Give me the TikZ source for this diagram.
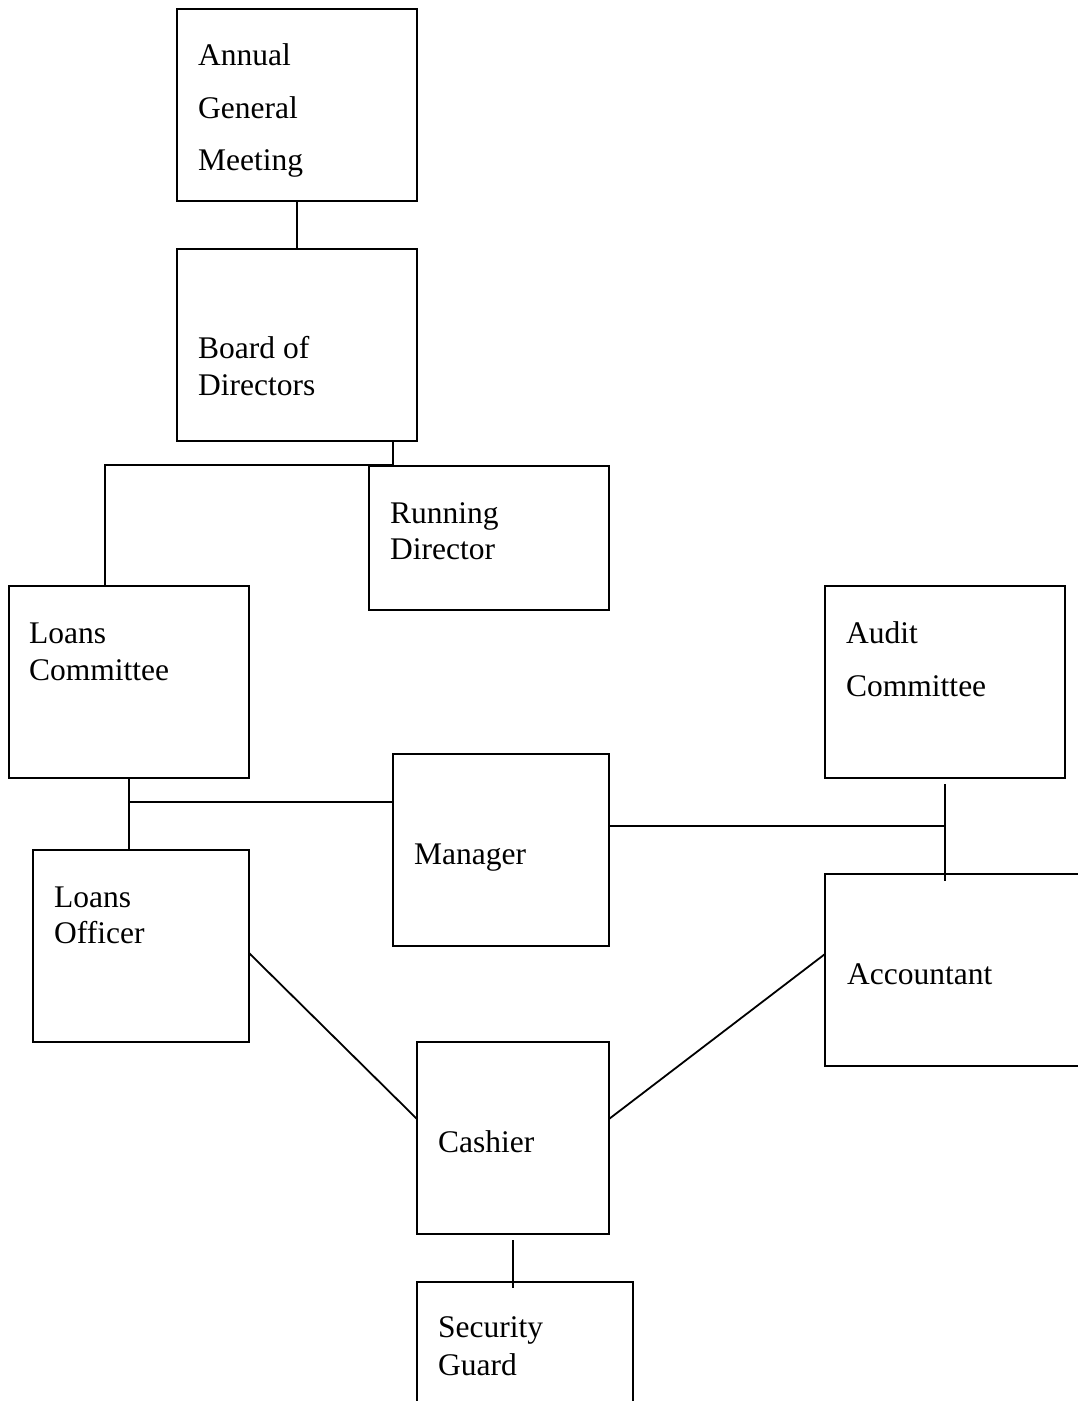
\documentclass[tikz,border=0pt]{standalone}
\usepackage{fontspec}
\setmainfont{Liberation Serif}
\begin{document}
\begin{tikzpicture}[x=1pt,y=-1pt,
  box/.style={draw, line width=1.8pt, inner sep=0pt, outer sep=0pt, anchor=north west},
  lbl/.style={anchor=base west, inner sep=0pt, font=\fontsize{31.5}{37}\selectfont},
  link/.style={line width=1.8pt}]
\useasboundingbox (0,0) rectangle (1078,1401);
\clip (0,0) rectangle (1078,1401);

% boxes
\node[box, minimum width=240pt, minimum height=192pt] (agm)  at (177,9)    {};
\node[box, minimum width=240pt, minimum height=192pt] (bod)  at (177,249)  {};
\node[box, minimum width=240pt, minimum height=144pt] (rd)   at (369,466)  {};
\node[box, minimum width=240pt, minimum height=192pt] (lc)   at (9,586)    {};
\node[box, minimum width=240pt, minimum height=192pt] (ac)   at (825,586)  {};
\node[box, minimum width=216pt, minimum height=192pt] (mgr)  at (393,754)  {};
\node[box, minimum width=216pt, minimum height=192pt] (lo)   at (33,850)   {};
\node[box, minimum width=290pt, minimum height=192pt] (acct) at (825,874)  {};
\node[box, minimum width=192pt, minimum height=192pt] (cash) at (417,1042) {};
\node[box, minimum width=216pt, minimum height=200pt] (sg)   at (417,1282) {};

% labels
\node[lbl] (agm1) at (198,65)  {Annual};
\node[lbl] (agm2) at (198,118) {General};
\node[lbl] (agm3) at (198,170) {Meeting};
\node[lbl] (bod1) at (198,358) {Board of};
\node[lbl] (bod2) at (198,395) {Directors};
\node[lbl] (rd1)  at (390,523) {Running};
\node[lbl] (rd2)  at (390,559) {Director};
\node[lbl] (lc1)  at (29,643)  {Loans};
\node[lbl] (lc2)  at (29,680)  {Committee};
\node[lbl] (ac1)  at (846,643) {Audit};
\node[lbl] (ac2)  at (846,696) {Committee};
\node[lbl] (mgr1) at (414,864) {Manager};
\node[lbl] (lo1)  at (54,907)  {Loans};
\node[lbl] (lo2)  at (54,943)  {Officer};
\node[lbl] (acc1) at (847,984) {Accountant};
\node[lbl] (cas1) at (438,1152) {Cashier};
\node[lbl] (sg1)  at (438,1337) {Security};
\node[lbl] (sg2)  at (438,1375) {Guard};

% junction points
\coordinate (bj) at (393,465);
\coordinate (lj) at (105,465);
\coordinate (mj) at (129,802);
\coordinate (aj) at (945,826);
\coordinate (atop) at (945,784);
\coordinate (abot) at (945,881);

% connectors
\draw[link] (agm.south) -- (bod.north);
\draw[link] (bj |- bod.south) -- (bj) -- (lj) -- (lj |- lc.north);
\draw[link] (lc.south) -- (lc.south |- lo.north);
\draw[link] (mj) -- (mj -| mgr.west);
\draw[link] (aj -| mgr.east) -- (aj);
\draw[link] (atop) -- (abot);
\draw[link] ([yshift=-7pt]lo.east) -- ([yshift=19pt]cash.west);
\draw[link] ([yshift=19pt]cash.east) -- ([yshift=16pt]acct.west);
\draw[link] ([yshift=-6pt]cash.south) -- ([yshift=-6pt]cash.south |- sg.north);
\end{tikzpicture}
\end{document}
